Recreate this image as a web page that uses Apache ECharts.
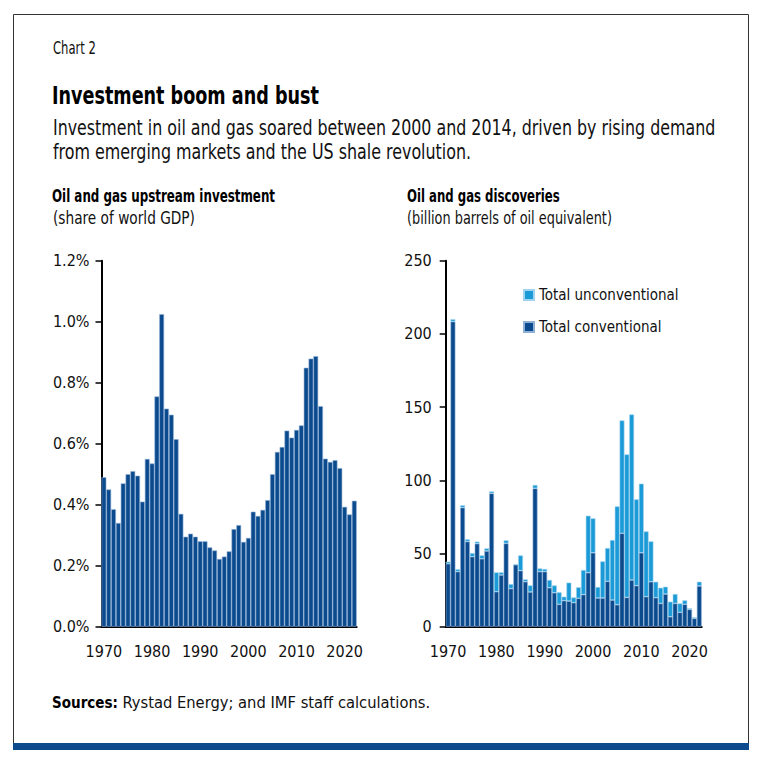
<!DOCTYPE html>
<html>
<head>
<meta charset="utf-8">
<script src="https://cdn.jsdelivr.net/npm/echarts@6/dist/echarts.min.js"></script>
<style>
html,body{margin:0;padding:0;background:#fff;}
#c{width:770px;height:775px;}
</style>
</head>
<body>
<div id="c"></div>
<script>
// ---- data ----
var years = [];
for (var y = 1970; y <= 2022; y++) years.push(String(y));

// Oil and gas upstream investment, % of world GDP (1970-2022)
var investment = [
  0.49, 0.45, 0.385, 0.34, 0.47, 0.50, 0.51, 0.495, 0.41, 0.55,
  0.535, 0.755, 1.025, 0.715, 0.695, 0.615, 0.37, 0.295, 0.305, 0.295,
  0.28, 0.28, 0.26, 0.25, 0.222, 0.23, 0.247, 0.32, 0.333, 0.278,
  0.291, 0.377, 0.363, 0.383, 0.415, 0.50, 0.573, 0.589, 0.643, 0.62,
  0.645, 0.66, 0.849, 0.879, 0.887, 0.723, 0.551, 0.54, 0.546, 0.52,
  0.393, 0.368, 0.413
];

// Oil and gas discoveries, billion barrels of oil equivalent (1970-2022)
var conventional = [
  43.0, 208.4, 37.6, 81.3, 58.1, 47.8, 56.7, 46.4, 51.7, 91.1,
  23.9, 35.3, 56.9, 26.0, 42.3, 38.3, 30.7, 23.7, 94.5, 37.6,
  37.6, 26.6, 23.2, 15.3, 17.8, 17.5, 16.4, 19.4, 21.9, 36.9,
  50.5, 19.6, 19.6, 31.0, 18.2, 15.0, 63.8, 20.0, 31.9, 28.0,
  50.5, 20.5, 30.7, 19.8, 15.9, 22.3, 6.8, 15.9, 9.8, 15.3,
  11.8, 5.7, 27.8
];
var unconventional = [
  1.4, 1.6, 1.6, 1.6, 1.6, 2.5, 1.4, 2.3, 1.8, 1.3,
  13.2, 1.8, 2.1, 3.1, 0.5, 10.4, 1.6, 4.5, 2.3, 2.2,
  1.8, 5.3, 5.0, 8.2, 2.7, 12.6, 3.6, 7.5, 16.8, 38.9,
  23.5, 7.5, 25.0, 22.7, 41.0, 67.2, 77.1, 97.7, 113.1, 59.0,
  47.2, 44.6, 27.6, 10.9, 10.7, 5.0, 10.3, 6.4, 6.1, 2.7,
  0.7, 0.7, 2.9
];

var leftTicks = [0, 0.2, 0.4, 0.6, 0.8, 1.0, 1.2];
var rightTicks = [0, 50, 100, 150, 200, 250];

// ---- styling ----
var FONT = "'Liberation Sans Narrow', 'DejaVu Sans Condensed', sans-serif";
var DARK = '#0b4a8c';
var LIGHT = '#1a9ad7';
var TXT = '#111';

var measureCtx = document.createElement('canvas').getContext('2d');
// text element horizontally fitted to a target width (keeps glyph height)
function fitText(str, weight, size, x, y, targetW, color) {
  var font = weight + ' ' + size + 'px ' + FONT;
  measureCtx.font = font;
  var w = measureCtx.measureText(str).width || targetW;
  return {
    type: 'text', x: x, y: y, scaleX: targetW / w, silent: true,
    style: {text: str, font: font, fill: color || TXT, verticalAlign: 'middle', align: 'left'}
  };
}

function xAxisCfg(gi) {
  return {
    type: 'category', gridIndex: gi, data: years,
    axisLine: {lineStyle: {color: '#000', width: 2}},
    axisTick: {show: false},
    axisLabel: {
      interval: function (i, v) { return Number(v) % 10 === 0; },
      color: TXT, fontFamily: FONT, fontSize: 16, margin: 17
    },
    splitLine: {show: false}
  };
}

var chart = echarts.init(document.getElementById('c'), null, {renderer: 'svg'});
chart.setOption({
  animation: false,
  backgroundColor: '#fff',
  textStyle: {fontFamily: FONT},
  grid: [
    {left: 101.5, top: 260.7, width: 255.2, height: 366},
    {left: 445.7, top: 260.7, width: 256, height: 366}
  ],
  xAxis: [xAxisCfg(0), xAxisCfg(1)],
  yAxis: [
    {
      type: 'value', gridIndex: 0, min: 0, max: 1.2, interval: 0.2,
      axisLine: {show: true, lineStyle: {color: '#000', width: 2}},
      axisTick: {show: true, length: 6, lineStyle: {color: '#000', width: 1.5}},
      axisLabel: {color: TXT, fontFamily: FONT, fontSize: 16, margin: 12,
        formatter: function (v) { return v.toFixed(1) + '%'; }},
      splitLine: {show: false}
    },
    {
      type: 'value', gridIndex: 1, min: 0, max: 250, interval: 50,
      axisLine: {show: true, lineStyle: {color: '#000', width: 2}},
      axisTick: {show: true, length: 6, lineStyle: {color: '#000', width: 1.5}},
      axisLabel: {color: TXT, fontFamily: FONT, fontSize: 16, margin: 14},
      splitLine: {show: false}
    }
  ],
  legend: {
    orient: 'vertical', left: 523, top: 287, padding: 0,
    itemWidth: 10, itemHeight: 10, itemGap: 16,
    icon: 'rect',
    data: ['Total unconventional', 'Total conventional'],
    textStyle: {color: TXT, fontFamily: FONT, fontSize: 15, lineHeight: 16},
    selectedMode: false
  },
  series: [
    {
      name: 'Investment', type: 'bar', xAxisIndex: 0, yAxisIndex: 0,
      data: investment, barCategoryGap: '0%',
      itemStyle: {color: DARK, borderColor: '#8fb0d6', borderWidth: 0.6}
    },
    {
      name: 'Total conventional', type: 'bar', xAxisIndex: 1, yAxisIndex: 1, stack: 'd',
      data: conventional, barCategoryGap: '0%',
      itemStyle: {color: DARK, borderColor: '#8fb0d6', borderWidth: 0.6}
    },
    {
      name: 'Total unconventional', type: 'bar', xAxisIndex: 1, yAxisIndex: 1, stack: 'd',
      data: unconventional, barCategoryGap: '0%',
      itemStyle: {color: LIGHT, borderColor: '#9fd3ef', borderWidth: 0.6}
    }
  ],
  graphic: [
    {type: 'rect', silent: true, z: -10, shape: {x: 13.5, y: 14.5, width: 735, height: 735},
      style: {fill: 'none', stroke: '#333', lineWidth: 1}},
    {type: 'rect', silent: true, shape: {x: 13, y: 743, width: 736, height: 7},
      style: {fill: '#0d4a8e'}},
    fitText('Chart 2', 'normal', 17, 53, 48, 43),
    fitText('Investment boom and bust', 'bold', 24, 52, 96, 267, '#000'),
    fitText('Investment in oil and gas soared between 2000 and 2014, driven by rising demand', 'normal', 21, 53, 128, 663),
    fitText('from emerging markets and the US shale revolution.', 'normal', 21, 53, 152, 418),
    fitText('Oil and gas upstream investment', 'bold', 17, 52, 196, 223, '#000'),
    fitText('(share of world GDP)', 'normal', 17, 53, 218, 142),
    fitText('Oil and gas discoveries', 'bold', 17, 407, 196, 153, '#000'),
    fitText('(billion barrels of oil equivalent)', 'normal', 17, 407, 218, 205),
    fitText('Sources:', 'bold', 16, 52, 703, 66, '#000'),
    fitText('Rystad Energy; and IMF staff calculations.', 'normal', 16, 122.5, 703, 308)
  ]
});
</script>
</body>
</html>
